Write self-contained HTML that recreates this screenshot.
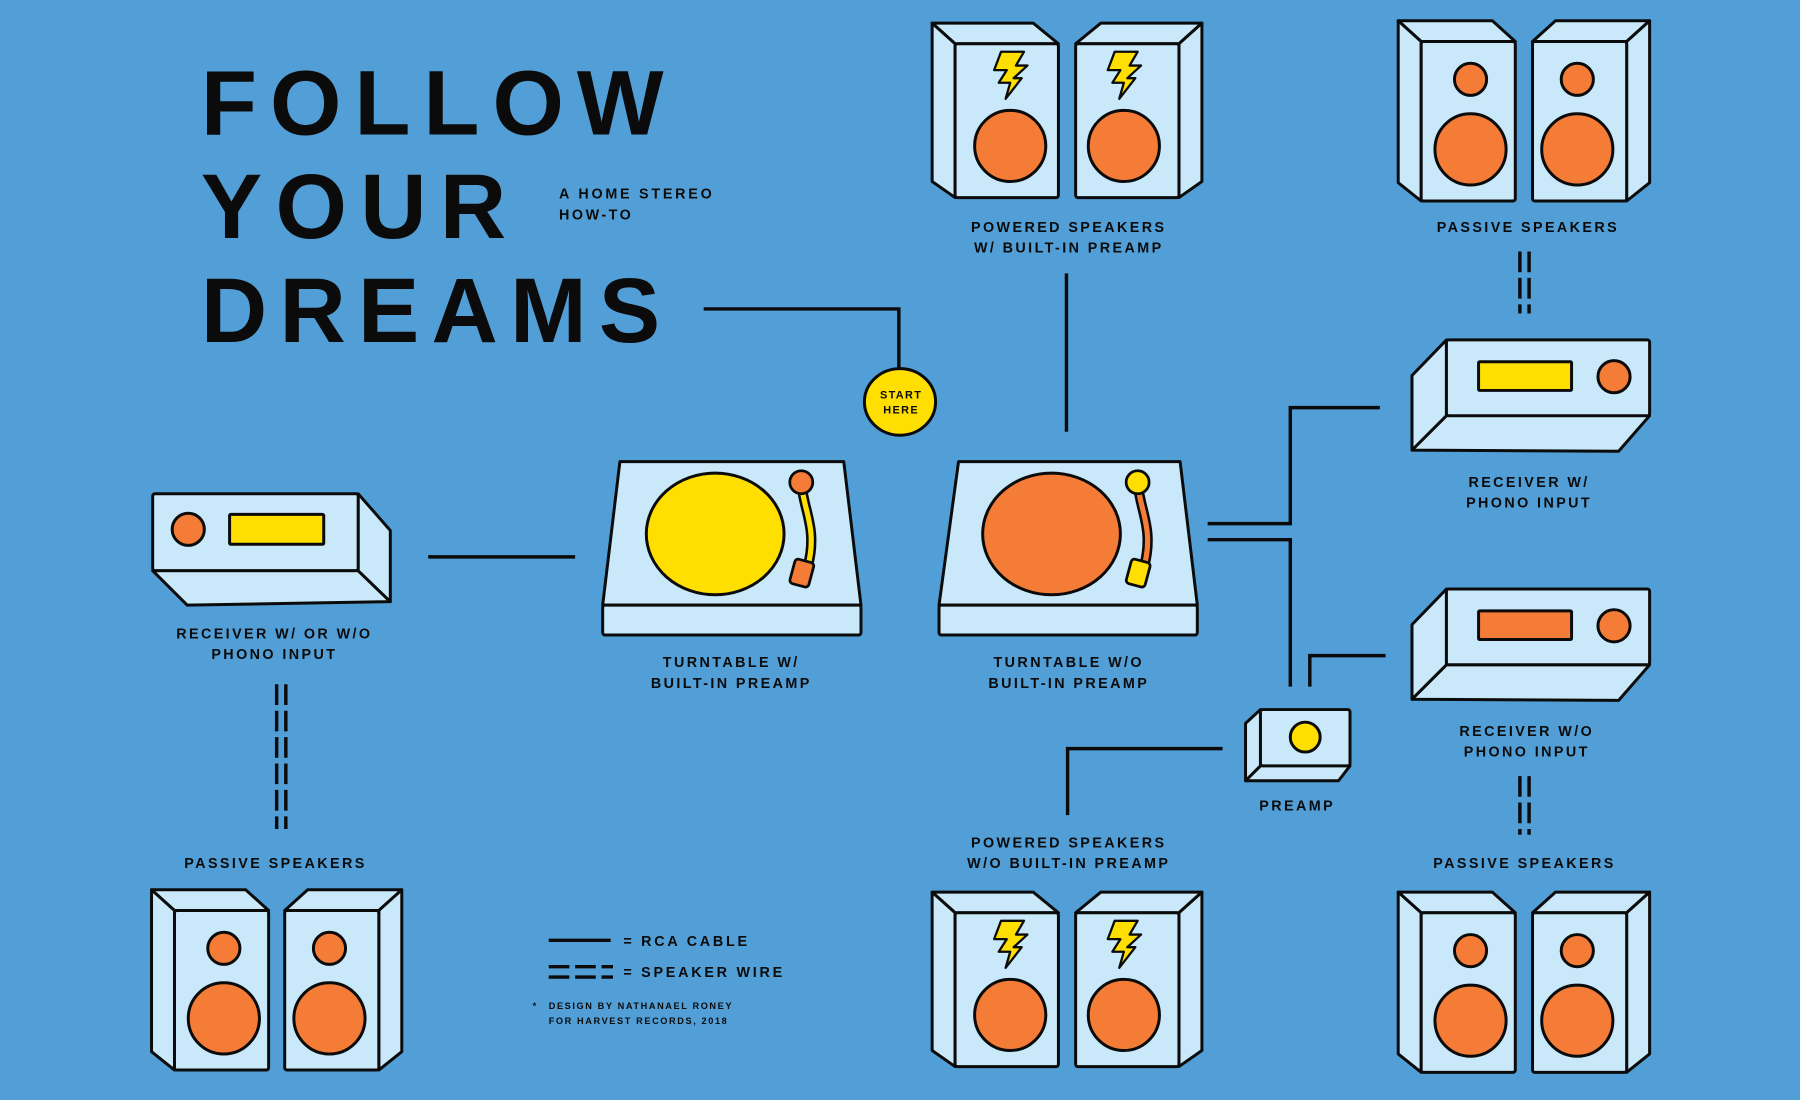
<!DOCTYPE html>
<html><head><meta charset="utf-8"><style>
html,body{margin:0;padding:0;background:#529fd7;}
svg{display:block}
text{font-family:"Liberation Sans",sans-serif;font-weight:bold;fill:#0b0b0b}
.l{font-size:12.5px;letter-spacing:2.1px;text-anchor:middle}
</style></head><body>
<svg width="1800" height="1100" viewBox="0 0 1568 958" xmlns="http://www.w3.org/2000/svg">
<defs>
<g id="spkP" stroke="#0b0b0b" stroke-width="2.6" stroke-linejoin="round" fill="#c9e9fb">
  <polygon points="0,0 82,0 102,18 20,18"/>
  <polygon points="0,0 20,18 20,157 0,141"/>
  <rect x="20" y="18" width="82" height="139" rx="2"/>
</g>
<g id="spkW" stroke="#0b0b0b" stroke-width="2.6" stroke-linejoin="round" fill="#c9e9fb">
  <polygon points="0,0 88,0 110,18 20,18"/>
  <polygon points="0,0 20,18 20,152 0,138"/>
  <rect x="20" y="18" width="90" height="134" rx="2"/>
</g>
<path id="bolt" d="M-8,-20 L12,-20 L5,-8 L15,-8 L3,3 L10,3 L-4,21 L0,7 L-10,7 L-3,-4 L-14,-4 Z" fill="#ffdf00" stroke="#0b0b0b" stroke-width="2" stroke-linejoin="round"/>
</defs>
<rect width="1568" height="958" fill="#529fd7"/>

<!-- Title -->
<text x="175" y="117" font-size="80" textLength="403" lengthAdjust="spacing">FOLLOW</text>
<text x="175" y="207" font-size="80" textLength="266" lengthAdjust="spacing">YOUR</text>
<text x="175" y="298" font-size="80" textLength="400" lengthAdjust="spacing">DREAMS</text>
<text x="487" y="173" font-size="12.5" textLength="133" lengthAdjust="spacing">A HOME STEREO</text>
<text x="487" y="191" font-size="12.5" letter-spacing="2.2">HOW-TO</text>

<!-- connectors -->
<g fill="none" stroke="#0b0b0b" stroke-width="3">
<path d="M613 269 H783 V322"/>
<path d="M929 238 V376"/>
<path d="M373 485 H501"/>
<path d="M1052 456 H1124 V355 H1202"/>
<path d="M1052 470 H1124 V598"/>
<path d="M1141 598 V571 H1207"/>
<path d="M1065 652 H930 V710"/>
<path d="M478 819 H532"/>
</g>
<g fill="none" stroke="#0b0b0b" stroke-width="3" stroke-dasharray="18,5">
<path d="M241 596 V722 M249 596 V722"/>
<path d="M1324 219 V273 M1332 219 V273"/>
<path d="M1324 676 V727 M1332 676 V727"/>
<path d="M478 842 H534 M478 851 H534"/>
</g>

<!-- start here -->
<ellipse cx="784" cy="350" rx="31" ry="29" fill="#ffdf00" stroke="#0b0b0b" stroke-width="2.6"/>
<text x="785" y="347" font-size="9.5" letter-spacing="1.2" text-anchor="middle">START</text>
<text x="785" y="360" font-size="9.5" letter-spacing="1.2" text-anchor="middle">HERE</text>

<!-- powered top -->
<use href="#spkW" transform="translate(812,20)"/>
<use href="#spkW" transform="translate(1047,20) scale(-1,1)"/>
<use href="#bolt" transform="translate(880,65)"/>
<use href="#bolt" transform="translate(979,65)"/>
<circle cx="880" cy="127" r="31" fill="#f47c37" stroke="#0b0b0b" stroke-width="2.6"/>
<circle cx="979" cy="127" r="31" fill="#f47c37" stroke="#0b0b0b" stroke-width="2.6"/>
<!-- powered bottom -->
<use href="#spkW" transform="translate(812,777)"/>
<use href="#spkW" transform="translate(1047,777) scale(-1,1)"/>
<use href="#bolt" transform="translate(880,822)"/>
<use href="#bolt" transform="translate(979,822)"/>
<circle cx="880" cy="884" r="31" fill="#f47c37" stroke="#0b0b0b" stroke-width="2.6"/>
<circle cx="979" cy="884" r="31" fill="#f47c37" stroke="#0b0b0b" stroke-width="2.6"/>

<!-- passive speakers -->
<g stroke="#0b0b0b" stroke-width="2.6" fill="#f47c37">
<use href="#spkP" transform="translate(1218,18)"/>
<use href="#spkP" transform="translate(1437,18) scale(-1,1)"/>
<circle cx="1281" cy="69" r="14"/><circle cx="1374" cy="69" r="14"/>
<circle cx="1281" cy="130" r="31"/><circle cx="1374" cy="130" r="31"/>

<use href="#spkP" transform="translate(132,775)"/>
<use href="#spkP" transform="translate(350,775) scale(-1,1)"/>
<circle cx="195" cy="826" r="14"/><circle cx="287" cy="826" r="14"/>
<circle cx="195" cy="887" r="31"/><circle cx="287" cy="887" r="31"/>

<use href="#spkP" transform="translate(1218,777)"/>
<use href="#spkP" transform="translate(1437,777) scale(-1,1)"/>
<circle cx="1281" cy="828" r="14"/><circle cx="1374" cy="828" r="14"/>
<circle cx="1281" cy="889" r="31"/><circle cx="1374" cy="889" r="31"/>
</g>

<!-- receivers -->
<g stroke="#0b0b0b" stroke-width="2.6" stroke-linejoin="round" fill="#c9e9fb">
<polygon points="133,497 312,497 340,524 163,527"/>
<polygon points="312,430 340,462 340,524 312,497"/>
<rect x="133" y="430" width="179" height="67" rx="2"/>
<circle cx="164" cy="461" r="14" fill="#f47c37"/>
<rect x="200" y="448" width="82" height="26" rx="1" fill="#ffdf00"/>

<polygon points="1260,362 1437,362 1410,393 1230,392"/>
<polygon points="1230,327 1260,296 1260,362 1230,392"/>
<rect x="1260" y="296" width="177" height="66" rx="2"/>
<rect x="1288" y="315" width="81" height="25" rx="1" fill="#ffdf00"/>
<circle cx="1406" cy="328" r="14" fill="#f47c37"/>

<polygon points="1260,579 1437,579 1410,610 1230,609"/>
<polygon points="1230,544 1260,513 1260,579 1230,609"/>
<rect x="1260" y="513" width="177" height="66" rx="2"/>
<rect x="1288" y="532" width="81" height="25" rx="1" fill="#f47c37"/>
<circle cx="1406" cy="545" r="14" fill="#f47c37"/>

<!-- preamp -->
<polygon points="1098,667 1176,667 1166,680 1085,680"/>
<polygon points="1085,630 1098,618 1098,667 1085,680"/>
<rect x="1098" y="618" width="78" height="49" rx="2"/>
<circle cx="1137" cy="642" r="13" fill="#ffdf00"/>

<!-- turntables -->
<polygon points="540,402 735,402 750,527 525,527"/>
<rect x="525" y="527" width="225" height="26" rx="2"/>
<ellipse cx="623" cy="465" rx="60" ry="53" fill="#ffdf00"/>
<polygon points="835,402 1028,402 1043,527 818,527"/>
<rect x="818" y="527" width="225" height="26" rx="2"/>
<ellipse cx="916" cy="465" rx="60" ry="53" fill="#f47c37"/>
</g>
<!-- tonearms -->
<g stroke-linecap="round" fill="none">
<path d="M698 420 C700 445 712 460 704 492" stroke="#0b0b0b" stroke-width="9"/>
<path d="M698 420 C700 445 712 460 704 492" stroke="#ffdf00" stroke-width="4.5"/>
<path d="M991 420 C993 445 1005 460 997 492" stroke="#0b0b0b" stroke-width="9"/>
<path d="M991 420 C993 445 1005 460 997 492" stroke="#f47c37" stroke-width="4.5"/>
</g>
<g stroke="#0b0b0b" stroke-width="2.4">
<circle cx="698" cy="420" r="10" fill="#f47c37"/>
<rect x="690" y="488" width="17" height="22" rx="3" fill="#f47c37" transform="rotate(15 698 499)"/>
<circle cx="991" cy="420" r="10" fill="#ffdf00"/>
<rect x="983" y="488" width="17" height="22" rx="3" fill="#ffdf00" transform="rotate(15 991 499)"/>
</g>

<!-- labels -->
<text class="l" x="931" y="202">POWERED SPEAKERS</text>
<text class="l" x="931" y="220">W/ BUILT-IN PREAMP</text>
<text class="l" x="1331" y="202">PASSIVE SPEAKERS</text>
<text class="l" x="1332" y="424">RECEIVER W/</text>
<text class="l" x="1332" y="442">PHONO INPUT</text>
<text class="l" x="239" y="556">RECEIVER W/ OR W/O</text>
<text class="l" x="239" y="574">PHONO INPUT</text>
<text class="l" x="637" y="581">TURNTABLE W/</text>
<text class="l" x="637" y="599">BUILT-IN PREAMP</text>
<text class="l" x="931" y="581">TURNTABLE W/O</text>
<text class="l" x="931" y="599">BUILT-IN PREAMP</text>
<text class="l" x="1330" y="641">RECEIVER W/O</text>
<text class="l" x="1330" y="659">PHONO INPUT</text>
<text class="l" x="1130" y="706">PREAMP</text>
<text class="l" x="931" y="738">POWERED SPEAKERS</text>
<text class="l" x="931" y="756">W/O BUILT-IN PREAMP</text>
<text class="l" x="240" y="756">PASSIVE SPEAKERS</text>
<text class="l" x="1328" y="756">PASSIVE SPEAKERS</text>

<!-- legend -->
<text x="543" y="824" font-size="12.5" letter-spacing="2.4">= RCA CABLE</text>
<text x="543" y="851" font-size="12.5" letter-spacing="2.4">= SPEAKER WIRE</text>
<text x="464" y="879" font-size="8" letter-spacing="1.4">*</text>
<text x="478" y="879" font-size="8" letter-spacing="1.4">DESIGN BY NATHANAEL RONEY</text>
<text x="478" y="892" font-size="8" letter-spacing="1.4">FOR HARVEST RECORDS, 2018</text>
</svg>
</body></html>
